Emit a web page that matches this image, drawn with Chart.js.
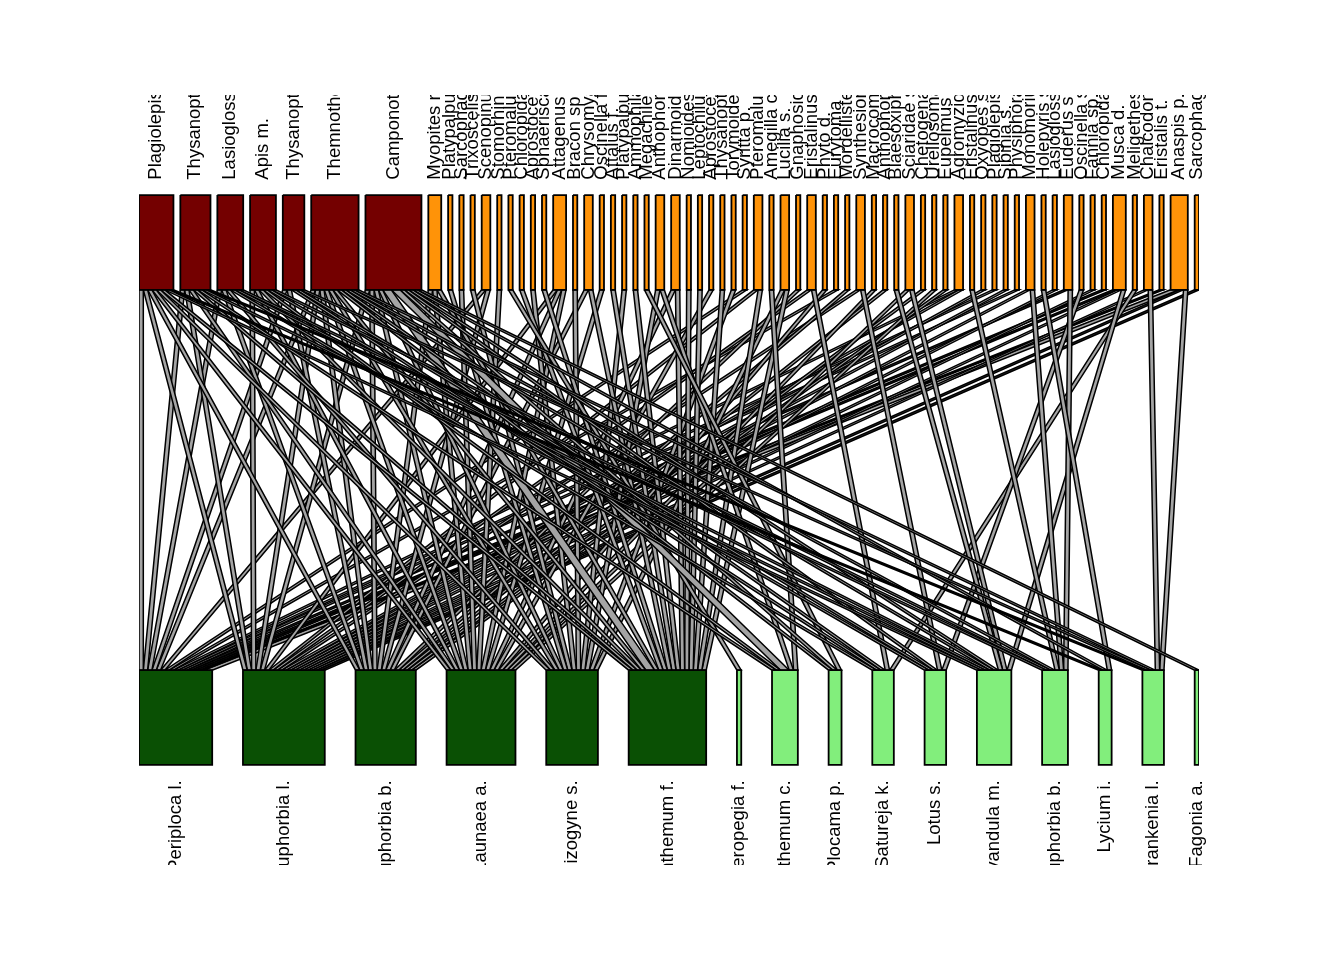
<!DOCTYPE html>
<html>
<head>
<meta charset="utf-8">
<title>Plant - visitor web</title>
<script src="https://cdn.jsdelivr.net/npm/chart.js@4.4.1/dist/chart.umd.min.js"></script>
<style>
  html, body { margin: 0; padding: 0; background: #fff; }
  #wrap { width: 1344px; height: 960px; }
</style>
</head>
<body>
<div id="wrap"><canvas id="web"></canvas></div>
<script>
// higher level (visitors), left to right
const highNames = [
  'Plagiolepis s.', 'Thysanoptera sp1', 'Lasioglossum sp1', 'Apis m.', 'Thysanoptera sp2',
  'Themnothorax s.', 'Camponotus s.',
  'Myopites r.', 'Platypalpus sp1', 'Sarcophaga sp1', 'Trixoscelis sp.', 'Scenopinus sp.',
  'Stomorhina l.', 'Pteromalus sp1', 'Chloropidae sp1', 'Aprostocetus sp1', 'Sphaerisca s.',
  'Attagenus sp.', 'Bracon sp.', 'Chrysomya a.', 'Oscinella f.', 'Attalus f.',
  'Platypalpus sp2', 'Ammophila sp.', 'Megachile sp.', 'Anthophora sp1', 'Dinarmoides sp.',
  'Nomioides sp.', 'Leptochilus sp.', 'Aprostocetus sp2', 'Thysanoptera sp3', 'Torymoides sp.',
  'Syritta p.', 'Pteromalus sp2', 'Amegilla c.', 'Lucilia s.', 'Gnaphosidae sp.',
  'Eristalinus sp1', 'Phyto d.', 'Eurytoma sp.', 'Mordellistena sp.', 'Synthesiomyia n.',
  'Macrocomus sp.', 'Anthophora sp2', 'Blaesoxipha sp.', 'Sciaridae sp.', 'Chetogena sp.',
  'Urellosoma sp.', 'Eupelmus sp.', 'Agromyzidae sp.', 'Eristalinus sp2', 'Oxyopes sp.',
  'Plagiolepis sp2', 'Sibinia s.', 'Physiphora sp.', 'Monomorium sp.', 'Holepyris sp.',
  'Lasioglossum sp2', 'Euderus s.', 'Oscinella sp.', 'Fannia sp.', 'Chloropida sp2',
  'Musca d.', 'Meligethes sp.', 'Chalcodon sp.', 'Eristalis t.', 'Anaspis p.', 'Sarcophaga sp2'
];
const highGroupSize = 7;   // first group of visitors

// lower level (plants), left to right
const lowNames = [
  'Periploca l.', 'Euphorbia l.', 'Euphorbia b.', 'Launaea a.', 'Schizogyne s.',
  'Helianthemum f.', 'Ceropegia f.', 'Helianthemum c.', 'Plocama p.', 'Satureja k.',
  'Lotus s.', 'Lavandula m.', 'Euphorbia b.', 'Lycium i.', 'Frankenia l.', 'Fagonia a.'
];
const lowGroupSize = 6;    // first group of plants

// interactions: [visitor, plant, count]
const web = [
  [0,0,1],[0,1,1],[0,2,1],[0,3,1],[0,4,1],[0,5,1],[0,11,1],[0,13,1],
  [1,0,1],[1,1,1],[1,3,1],[1,5,1],[1,7,1],[1,11,1],[1,14,1],
  [2,0,1],[2,2,1],[2,4,1],[2,9,1],[2,11,1],[2,12,1],
  [3,1,1],[3,3,1],[3,5,1],[3,7,1],[3,10,1],[3,12,1],
  [4,0,1],[4,2,1],[4,9,1],[4,10,1],[4,14,1],
  [5,0,1],[5,1,1],[5,2,1],[5,3,1],[5,4,1],[5,5,1],[5,8,1],[5,9,1],[5,11,1],[5,12,1],[5,14,1],
  [6,1,1],[6,2,1],[6,3,1],[6,4,1],[6,5,2],[6,7,2],[6,8,1],[6,10,1],[6,11,1],[6,13,1],[6,15,1],
  [7,2,1],[7,3,1],[7,5,1],[8,4,1],[9,3,1],[10,4,1],[11,0,1],[11,2,1],[12,3,1],[13,6,1],
  [14,5,1],[15,4,1],[16,5,1],[17,1,1],[17,2,1],[17,3,1],[18,4,1],[19,2,1],[19,5,1],
  [20,3,1],[21,5,1],[22,4,1],[23,5,1],[24,8,1],[25,4,1],[25,7,1],[26,3,1],[26,5,1],
  [27,5,1],[28,5,1],[29,3,1],[30,5,1],[31,4,1],[32,0,1],[33,1,1],[33,5,1],[34,7,1],
  [35,4,1],[35,5,1],[36,2,1],[37,1,1],[37,9,1],[38,3,1],[39,0,1],[40,2,1],[41,1,1],
  [41,10,1],[42,3,1],[43,2,1],[44,11,1],[45,3,1],[45,11,1],[46,2,1],[47,3,1],[48,2,1],
  [49,0,1],[49,1,1],[50,12,1],[51,1,1],[52,0,1],[53,1,1],[54,0,1],[55,1,1],[55,12,1],
  [56,13,1],[57,1,1],[58,0,1],[58,12,1],[59,10,1],[60,1,1],[61,0,1],[62,0,1],[62,1,1],
  [62,11,1],[63,9,1],[64,1,1],[64,14,1],[65,0,1],[66,0,2],[66,1,1],[66,14,1],[67,1,1]
];

// layout (scale units / fractions of the y axis)
const HIGH_GAP = 1.6;
const Y_HIGH_TOP = 0.870, Y_HIGH_BOT = 0.747;
const Y_LOW_TOP = 0.253, Y_LOW_BOT = 0.130;
const Y_HIGH_LAB = 0.890, Y_LOW_LAB = 0.110;

const highTotals = highNames.map((_, i) => web.filter(l => l[0] === i).reduce((s, l) => s + l[2], 0));
const lowTotals = lowNames.map((_, j) => web.filter(l => l[1] === j).reduce((s, l) => s + l[2], 0));
const total = highTotals.reduce((a, b) => a + b, 0);
const xMax = total + (highNames.length - 1) * HIGH_GAP;
const lowGap = (xMax - total) / (lowNames.length - 1);

function starts(totals, gap) {
  let x = 0;
  return totals.map(t => { const s = x; x += t + gap; return s; });
}
const highStart = starts(highTotals, HIGH_GAP);
const lowStart = starts(lowTotals, lowGap);

// link offsets: inside a visitor box sorted by plant, inside a plant box sorted by visitor
const highOff = {}, lowOff = {};
highNames.forEach((_, i) => {
  let o = highStart[i];
  web.map((l, k) => [l, k]).filter(([l]) => l[0] === i).sort((a, b) => a[0][1] - b[0][1])
    .forEach(([l, k]) => { highOff[k] = o; o += l[2]; });
});
lowNames.forEach((_, j) => {
  let o = lowStart[j];
  web.map((l, k) => [l, k]).filter(([l]) => l[1] === j).sort((a, b) => a[0][0] - b[0][0])
    .forEach(([l, k]) => { lowOff[k] = o; o += l[2]; });
});

const rect = (x0, x1, y0, y1) => [
  { x: x0, y: y0 }, { x: x1, y: y0 }, { x: x1, y: y1 }, { x: x0, y: y1 }, { x: x0, y: y0 }
];

const datasets = [];
highNames.forEach((n, i) => {
  datasets.push({
    label: n,
    data: rect(highStart[i], highStart[i] + highTotals[i], Y_HIGH_TOP, Y_HIGH_BOT),
    backgroundColor: i < highGroupSize ? '#740000' : '#ff9308',
    borderColor: '#000', borderWidth: 1.8, fill: 'shape'
  });
});
lowNames.forEach((n, j) => {
  datasets.push({
    label: n,
    data: rect(lowStart[j], lowStart[j] + lowTotals[j], Y_LOW_TOP, Y_LOW_BOT),
    backgroundColor: j < lowGroupSize ? '#0a5004' : '#82ee7c',
    borderColor: '#000', borderWidth: 1.8, fill: 'shape'
  });
});
web.forEach((l, k) => {
  const h = highOff[k], lo = lowOff[k], c = l[2];
  datasets.push({
    label: highNames[l[0]] + ' - ' + lowNames[l[1]],
    data: [
      { x: h, y: Y_HIGH_BOT }, { x: h + c, y: Y_HIGH_BOT },
      { x: lo + c, y: Y_LOW_TOP }, { x: lo, y: Y_LOW_TOP }, { x: h, y: Y_HIGH_BOT }
    ],
    backgroundColor: '#a4a4a4',
    borderColor: '#000', borderWidth: 1.5, fill: 'shape'
  });
});

const labelPlugin = {
  id: 'webLabels',
  afterDraw(chart) {
    const { ctx, chartArea, scales: { x, y } } = chart;
    ctx.save();
    ctx.beginPath();
    ctx.rect(0, chartArea.top, chart.width, chartArea.bottom - chartArea.top);
    ctx.clip();
    ctx.fillStyle = '#000';
    ctx.font = '18.5px "Liberation Sans", Arial, sans-serif';
    ctx.textBaseline = 'middle';
    const put = (name, xv, yv, align) => {
      ctx.save();
      ctx.translate(x.getPixelForValue(xv), y.getPixelForValue(yv));
      ctx.rotate(-Math.PI / 2);
      ctx.textAlign = align;
      ctx.fillText(name, 0, 0);
      ctx.restore();
    };
    highNames.forEach((n, i) => put(n, highStart[i] + highTotals[i] / 2, Y_HIGH_LAB, 'left'));
    lowNames.forEach((n, j) => put(n, lowStart[j] + lowTotals[j] / 2, Y_LOW_LAB, 'right'));
    ctx.restore();
  }
};

new Chart(document.getElementById('web'), {
  type: 'line',
  data: { datasets },
  options: {
    responsive: true,
    maintainAspectRatio: false,
    animation: false,
    events: [],
    layout: { padding: { left: 139, right: 145, top: 95, bottom: 95 } },
    elements: { point: { radius: 0 }, line: { tension: 0, borderJoinStyle: 'miter' } },
    plugins: { legend: { display: false }, tooltip: { enabled: false } },
    scales: {
      x: { type: 'linear', min: 0, max: xMax, display: false },
      y: { type: 'linear', min: 0, max: 1, display: false }
    }
  },
  plugins: [labelPlugin]
});
</script>
</body>
</html>
